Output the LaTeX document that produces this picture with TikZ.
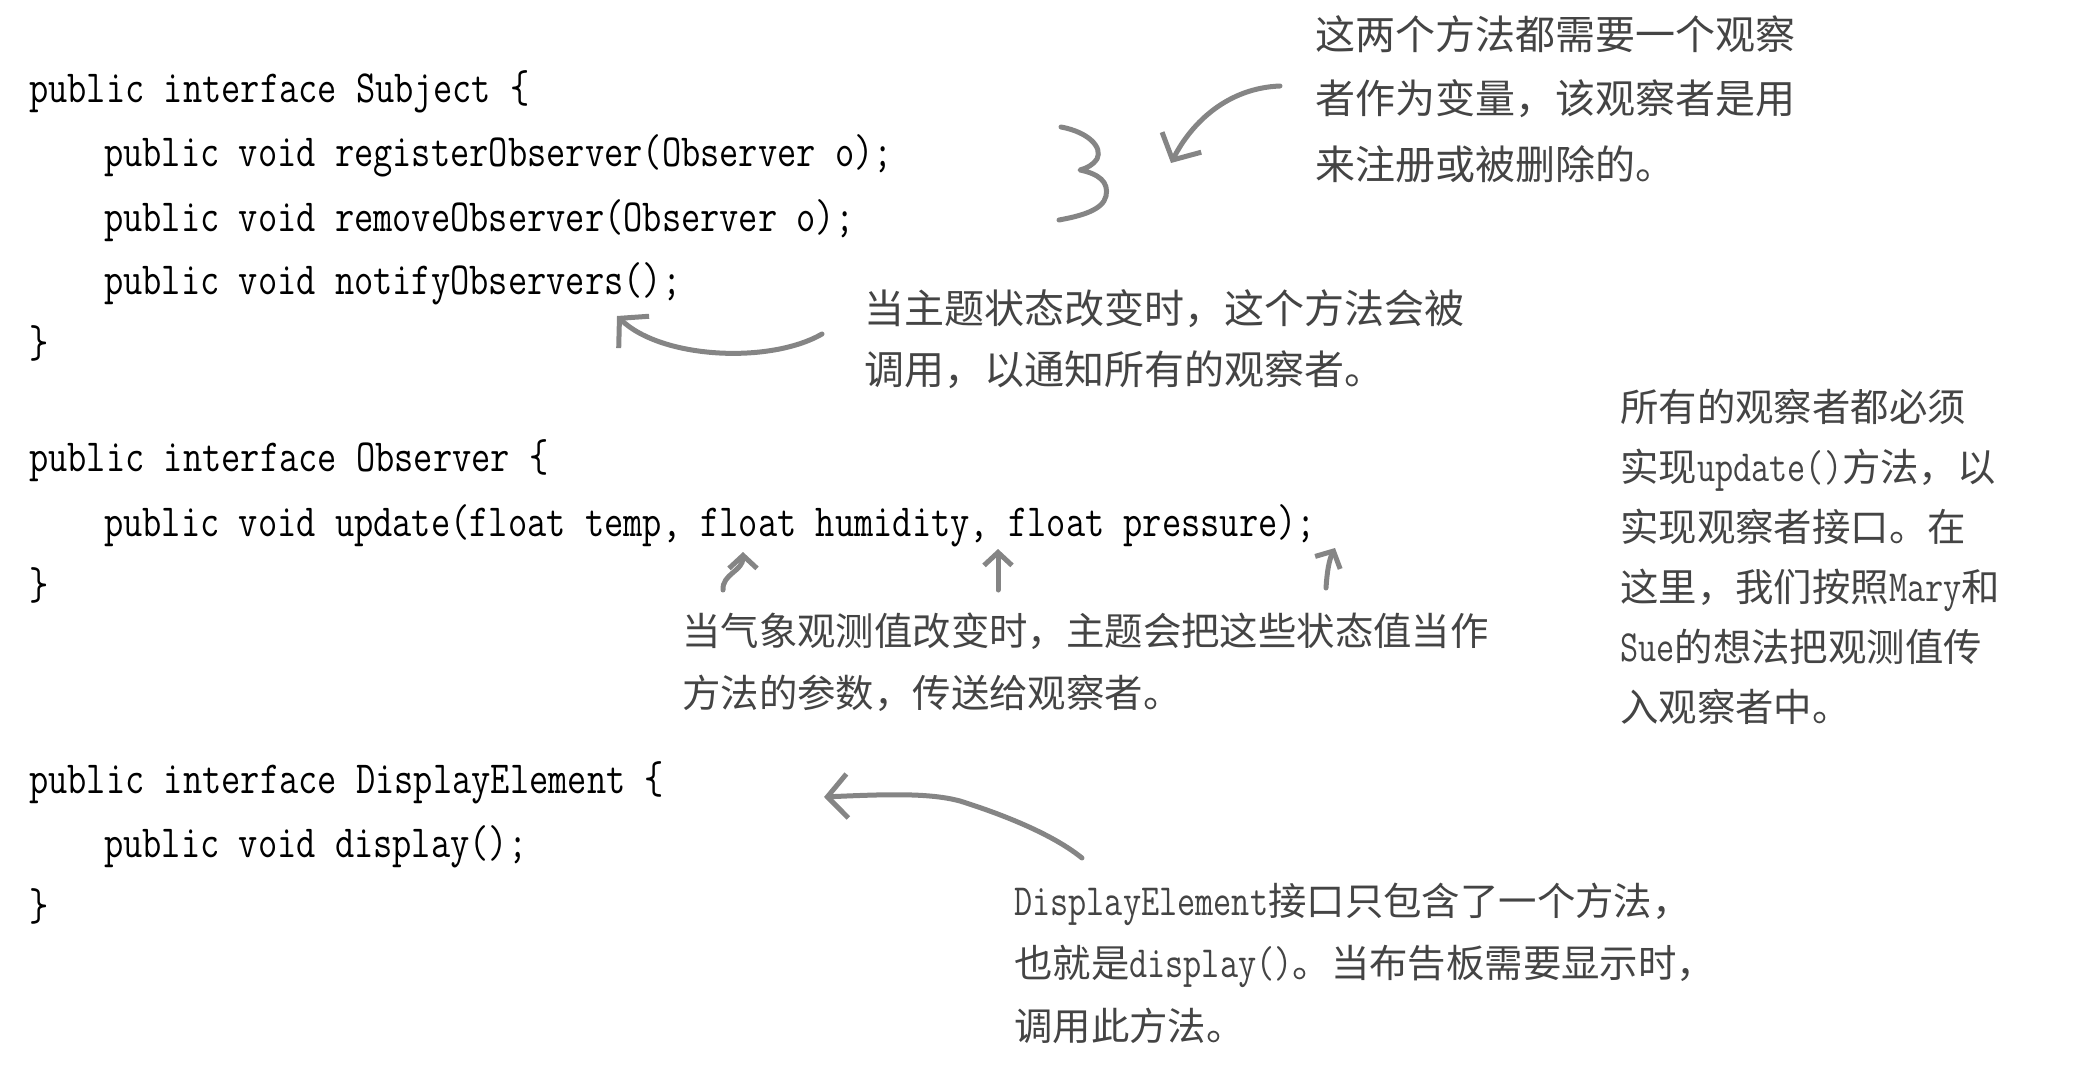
\documentclass[tikz,border=0pt]{standalone}
\usepackage{fontspec}
\newfontfamily\cjk{Noto Sans CJK SC}
\newfontfamily\codefont[FakeStretch=0.812]{Latin Modern Mono}
\newfontfamily\notemono[FakeStretch=0.79]{Latin Modern Mono}
\usetikzlibrary{arrows.meta}
\definecolor{notegray}{RGB}{68,68,68}
\definecolor{arrowgray}{RGB}{133,133,133}
\newcommand{\lat}[1]{{\notemono\fontsize{44.6}{44.6}\selectfont #1}}
\tikzset{
  code/.style={anchor=base west, inner sep=0pt, font=\codefont\fontsize{46}{46}\selectfont, text=black},
  note/.style={anchor=base west, inner sep=0pt, font=\cjk\fontsize{38.4}{38.4}\selectfont, text=notegray},
  bignote/.style={anchor=base west, inner sep=0pt, font=\cjk\fontsize{40}{40}\selectfont, text=notegray},
  hand/.style={draw=arrowgray, line width=5pt, line cap=round, line join=round},
  handarrow/.style={hand, -{Straight Barb[length=20pt,width=44pt]}},
  smallarrow/.style={hand, -{Straight Barb[length=13pt,width=28pt]}},
}
\begin{document}
\begin{tikzpicture}[x=1pt,y=-1pt]
\useasboundingbox (0,0) rectangle (2084,1086);
% ---- code ----
\node[code] (s1) at (29,103) {public interface Subject \{};
\node[code] (s2) at (104,167) {public void registerObserver(Observer o);};
\node[code] (s3) at (104,231) {public void removeObserver(Observer o);};
\node[code] (s4) at (104,294) {public void notifyObservers();};
\node[code] (s5) at (29,357) {\}};
\node[code] (o1) at (29,471) {public interface Observer \{};
\node[code] (o2) at (104,536) {public void update(float temp, float humidity, float pressure);};
\node[code] (o3) at (29,599) {\}};
\node[code] (d1) at (29,793) {public interface DisplayElement \{};
\node[code] (d2) at (104,857) {public void display();};
\node[code] (d3) at (29,920) {\}};
% ---- notes ----
\node[bignote] (a1) at (1315,50) {这两个方法都需要一个观察};
\node[bignote] (a2) at (1315,114) {者作为变量，该观察者是用};
\node[bignote] (a3) at (1315,179) {来注册或被删除的。};
\node[bignote] (b1) at (864,323) {当主题状态改变时，这个方法会被};
\node[bignote] (b2) at (864,384) {调用，以通知所有的观察者。};
\node[note] (c1) at (1620,421) {所有的观察者都必须};
\node[note] (c2) at (1620,481) {实现\lat{update()}方法，以};
\node[note] (c3) at (1620,541) {实现观察者接口。在};
\node[note] (c4) at (1620,601) {这里，我们按照\lat{Mary}和};
\node[note] (c5) at (1620,661) {\lat{Sue}的想法把观测值传};
\node[note] (c6) at (1620,721) {入观察者中。};
\node[note] (n1) at (682,645) {当气象观测值改变时，主题会把这些状态值当作};
\node[note] (n2) at (682,707) {方法的参数，传送给观察者。};
\node[note] (e1) at (1014,915) {\lat{DisplayElement}接口只包含了一个方法，};
\node[note] (e2) at (1014,977) {也就是\lat{display()}。当布告板需要显示时，};
\node[note] (e3) at (1014,1040) {调用此方法。};
% ---- hand-drawn marks ----
\draw[hand] (1061,127) .. controls (1088,132) and (1103,147) .. (1097,159)
  .. controls (1093,165) and (1087,168) .. (1080,170)
  .. controls (1099,174) and (1109,182) .. (1106,196)
  .. controls (1103,210) and (1081,216) .. (1059,220);
\coordinate (ta) at (1280,86);
\coordinate (ha) at (1171,163);
\draw[handarrow] (ta) .. controls (1228,88) and (1192,122) .. (ha);
\coordinate (tb) at (822,334);
\coordinate (hb) at (617,316);
\draw[handarrow] (tb) .. controls (770,364) and (662,359) .. (hb);
\coordinate (tu1) at (723,590);
\coordinate (hu1) at (743,552);
\draw[smallarrow] (tu1) .. controls (722,574) and (743,571) .. (hu1);
\coordinate (tu2) at (998,590);
\coordinate (hu2) at (998,549);
\draw[smallarrow] (tu2) -- (hu2);
\coordinate (tu3) at (1326,588);
\coordinate (hu3) at (1335,548);
\draw[smallarrow] (tu3) .. controls (1327,572) and (1329,560) .. (hu3);
\coordinate (te) at (1082,858);
\coordinate (he) at (824,797);
\draw[handarrow] (te) .. controls (1050,832) and (995,812) .. (960,801)
  .. controls (930,793) and (890,794) .. (he);
\end{tikzpicture}
\end{document}
